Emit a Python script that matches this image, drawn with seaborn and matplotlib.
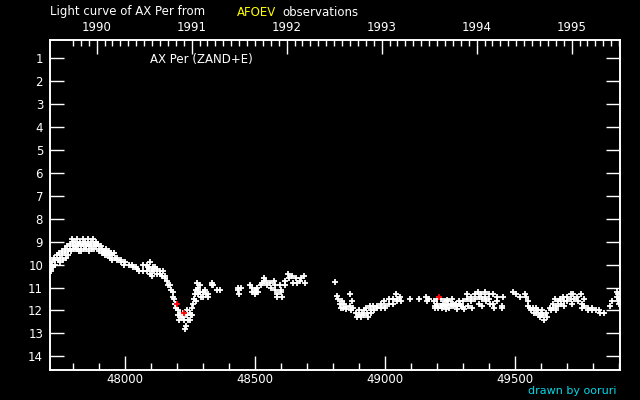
import numpy as np
import pandas as pd
import seaborn as sns
import matplotlib
matplotlib.use('Agg')
import matplotlib.pyplot as plt
from matplotlib.ticker import MultipleLocator

jd = [47714, 47716, 47718, 47721, 47724, 47729, 47731, 47733, 47739, 47742,
      47749, 47751, 47753, 47759, 47761, 47763, 47769, 47771, 47773, 47779,
      47781, 47783, 47789, 47791, 47793, 47798, 47800, 47802, 47804, 47809,
      47811, 47813, 47818, 47820, 47822, 47824, 47829, 47831, 47833, 47839,
      47841, 47843, 47849, 47851, 47853, 47858, 47860, 47862, 47864, 47869,
      47871, 47873, 47879, 47881, 47883, 47889, 47891, 47899, 47901, 47903,
      47909, 47911, 47913, 47919, 47921, 47923, 47929, 47931, 47933, 47939,
      47941, 47943, 47949, 47951, 47953, 47959, 47961, 47969, 47971, 47984,
      47986, 47999, 48001, 48015, 48029, 48031, 48044, 48046, 48055, 48069,
      48071, 48084, 48086, 48088, 48094, 48096, 48098, 48104, 48106, 48108,
      48114, 48116, 48124, 48126, 48134, 48136, 48144, 48146, 48154, 48156,
      48164, 48166, 48174, 48176, 48184, 48186, 48191, 48193, 48197, 48199,
      48204, 48206, 48208, 48214, 48216, 48223, 48225, 48227, 48231, 48234,
      48239, 48241, 48243, 48249, 48251, 48253, 48257, 48259, 48264, 48266,
      48271, 48273, 48275, 48279, 48281, 48283, 48289, 48291, 48293, 48299,
      48301, 48309, 48311, 48319, 48321, 48334, 48336, 48340, 48355, 48365,
      48434, 48436, 48438, 48447, 48480, 48489, 48491, 48499, 48501, 48503,
      48509, 48511, 48524, 48526, 48534, 48536, 48544, 48546, 48559, 48561,
      48574, 48576, 48578, 48584, 48586, 48598, 48600, 48602, 48604, 48614,
      48616, 48629, 48631, 48644, 48646, 48659, 48661, 48674, 48676, 48689,
      48691,
      48808, 48817, 48819, 48829, 48831, 48833, 48839, 48841, 48849, 48851,
      48864, 48866, 48868, 48874, 48876, 48889, 48891, 48899, 48901, 48909,
      48911, 48919, 48921, 48929, 48931, 48933, 48944, 48946, 48948, 48954,
      48956, 48969, 48971, 48984, 48986, 48998, 49000, 49002, 49014, 49016,
      49029, 49031, 49044, 49046, 49048, 49059, 49061, 49095, 49130, 49159,
      49161, 49170, 49189, 49191, 49193, 49199, 49201, 49203, 49214, 49216,
      49218, 49229, 49231, 49233, 49244, 49246, 49259, 49261, 49263, 49274,
      49276, 49278, 49289, 49291, 49299, 49301, 49303, 49314, 49316, 49318,
      49329, 49331, 49333, 49344, 49346, 49359, 49361, 49363, 49369, 49371,
      49373, 49384, 49386, 49388, 49399, 49401, 49403, 49414, 49416, 49418,
      49429, 49431, 49449, 49451, 49453, 49490, 49505, 49520, 49539, 49541,
      49549, 49551, 49559, 49561, 49569, 49571, 49579, 49581, 49583, 49589,
      49591, 49599, 49601, 49609, 49611, 49619, 49621, 49634, 49636, 49644,
      49646, 49654, 49656, 49658, 49664, 49666, 49674, 49676, 49684, 49686,
      49688, 49699, 49701, 49714, 49716, 49718, 49724, 49726, 49739, 49741,
      49754, 49756, 49758, 49764, 49766, 49779, 49781, 49794, 49796, 49810,
      49824, 49826, 49840, 49866, 49873, 49892, 49893, 49894, 49897, 49898,
      49899, 49222, 49238, 49252, 49268, 49284, 49240, 49595, 49605]
mag = [10.2, 10.3, 10.0, 9.9, 10.1, 9.7, 9.8, 10.0, 9.6, 9.8,
       9.5, 9.7, 9.9, 9.4, 9.6, 9.8, 9.3, 9.5, 9.7, 9.2,
       9.4, 9.6, 9.1, 9.3, 9.4, 8.9, 9.0, 9.2, 9.3, 9.0,
       9.2, 9.3, 8.9, 9.1, 9.3, 9.4, 9.0, 9.2, 9.4, 8.9,
       9.1, 9.3, 9.0, 9.2, 9.3, 8.9, 9.1, 9.2, 9.4, 9.0,
       9.2, 9.3, 8.9, 9.1, 9.3, 9.0, 9.2, 9.1, 9.3, 9.4,
       9.2, 9.3, 9.5, 9.4, 9.5, 9.6, 9.3, 9.5, 9.6, 9.4,
       9.6, 9.7, 9.5, 9.6, 9.8, 9.5, 9.7, 9.7, 9.8, 9.8,
       9.9, 10.0, 9.9, 10.0, 10.0, 10.1, 10.1, 10.2, 10.3, 10.3,
       10.0, 10.3, 10.0, 10.1, 10.2, 10.4, 9.9, 10.3, 10.5, 10.1,
       10.3, 10.1, 10.2, 10.4, 10.4, 10.3, 10.5, 10.3, 10.5, 10.6,
       10.7, 10.9, 10.9, 11.1, 11.2, 11.4, 11.5, 11.7, 11.7, 11.9,
       12.0, 12.2, 12.4, 12.1, 12.3, 12.1, 12.3, 12.4, 12.8, 12.7,
       12.2, 12.0, 12.4, 12.1, 12.4, 12.2, 11.9, 12.2, 11.7, 11.5,
       11.3, 11.1, 11.6, 10.8, 11.0, 11.3, 10.9, 11.2, 11.4, 11.2,
       11.4, 11.1, 11.3, 11.3, 11.4, 10.8, 10.9, 10.9, 11.1, 11.1,
       11.0, 11.1, 11.3, 11.0, 10.9, 11.0, 11.2, 11.1, 11.3, 11.2,
       11.0, 11.2, 10.9, 10.8, 10.6, 10.7, 10.7, 10.9, 10.8, 11.0,
       10.7, 10.9, 11.1, 11.3, 11.4, 10.9, 11.1, 11.2, 11.4, 10.7,
       10.9, 10.4, 10.6, 10.5, 10.8, 10.6, 10.8, 10.7, 10.6, 10.5,
       10.8,
       10.75, 11.35, 11.5, 11.7, 11.9, 11.6, 11.9, 11.7, 11.85, 11.95,
       11.3, 11.8, 12.0, 11.6, 11.9, 12.1, 12.3, 12.0, 12.2, 12.3,
       12.1, 12.2, 12.0, 11.9, 12.1, 12.3, 11.8, 12.0, 12.1, 11.8,
       12.0, 11.8, 11.9, 11.7, 11.9, 11.6, 11.8, 11.9, 11.5, 11.7,
       11.5, 11.7, 11.3, 11.5, 11.6, 11.4, 11.6, 11.5, 11.5, 11.4,
       11.6, 11.5, 11.6, 11.8, 11.9, 11.5, 11.7, 11.9, 11.5, 11.8,
       11.9, 11.6, 11.8, 11.95, 11.6, 11.9, 11.5, 11.7, 11.8, 11.7,
       11.8, 11.95, 11.7, 11.8, 11.6, 11.85, 11.95, 11.5, 11.3, 11.8,
       11.4, 11.6, 11.9, 11.3, 11.5, 11.2, 11.4, 11.7, 11.3, 11.5,
       11.8, 11.2, 11.4, 11.6, 11.3, 11.5, 11.7, 11.3, 11.7, 11.9,
       11.4, 11.6, 11.8, 11.9, 11.4, 11.2, 11.3, 11.4, 11.3, 11.4,
       11.6, 11.8, 11.9, 12.0, 11.9, 12.1, 11.9, 12.1, 12.0, 12.0,
       12.2, 12.1, 12.2, 12.2, 12.4, 12.1, 12.3, 11.9, 12.0, 11.7,
       11.9, 11.5, 11.8, 12.0, 11.6, 11.8, 11.5, 11.7, 11.4, 11.6,
       11.8, 11.4, 11.6, 11.3, 11.5, 11.7, 11.3, 11.5, 11.4, 11.6,
       11.3, 11.7, 11.9, 11.5, 11.8, 11.9, 12.0, 11.9, 12.0, 12.0,
       12.0, 12.1, 12.1, 11.8, 11.6, 11.2, 11.4, 11.6, 11.3, 11.5,
       11.7, 11.7, 11.75, 11.7, 11.75, 11.6, 11.55, 12.3, 12.0]

# observations flagged in red
jd_red = [48202, 48226, 49207]
mag_red = [11.7, 12.1, 11.4]

years = [1990, 1991, 1992, 1993, 1994, 1995]
ytick_mags = list(range(1, 15))

df = pd.DataFrame({'JD': jd, 'mag': mag})
dfr = pd.DataFrame({'JD': jd_red, 'mag': mag_red})

sns.set_style('ticks')
plt.rcParams['font.family'] = ['DejaVu Sans']

fig = plt.figure(figsize=(6.4, 4.0), dpi=100, facecolor='black')
ax = fig.add_axes([50/640, 30/400, 570/640, 330/400])
ax.set_facecolor('black')

sns.scatterplot(data=df, x='JD', y='mag', marker='+', color='white', s=16,
                linewidth=1.3, ax=ax, legend=False)
sns.scatterplot(data=dfr, x='JD', y='mag', marker='+', color='red', s=16,
                linewidth=1.3, ax=ax, legend=False)

ax.set_xlim(47713, 49903)
ax.set_ylim(14.6, 0.2)
ax.set_xlabel('')
ax.set_ylabel('')

ax.xaxis.set_major_locator(MultipleLocator(500))
ax.xaxis.set_minor_locator(MultipleLocator(100))
ax.set_yticks(ytick_mags)
ax.tick_params(axis='x', which='major', direction='in', length=10, width=1,
               color='white', labelcolor='white', labelsize=8.5, pad=2,
               top=False, bottom=True)
ax.tick_params(axis='x', which='minor', direction='in', length=5, width=1,
               color='white', top=False, bottom=True)
ax.tick_params(axis='y', which='major', direction='in', length=10, width=1,
               color='white', labelcolor='white', labelsize=8.5, pad=5,
               left=True, right=True, labelright=False)
for sp in ax.spines.values():
    sp.set_color('white')
    sp.set_linewidth(1.2)

# calendar axis along the top
ax2 = ax.twiny()
ax2.set_xlim(ax.get_xlim())
year_jd = [pd.Timestamp(f'{y}-01-01').to_julian_date() - 2400000 for y in years]
months = pd.date_range('1989-10-01', '1995-07-01', freq='MS')
month_jd = [t.to_julian_date() - 2400000 for t in months]
ax2.set_xticks(year_jd)
ax2.set_xticklabels([str(y) for y in years])
ax2.set_xticks(month_jd, minor=True)
ax2.tick_params(axis='x', which='major', direction='in', length=10, width=1,
                color='white', labelcolor='white', labelsize=8.5, pad=4)
ax2.tick_params(axis='x', which='minor', direction='in', length=4, width=1,
                color='white')
for sp in ax2.spines.values():
    sp.set_color('white')
    sp.set_linewidth(1.2)

fig.text(50/640, 1 - 12/400, 'Light curve of AX Per from', color='white',
         fontsize=8.5, va='center', ha='left')
fig.text(237/640, 1 - 12/400, 'AFOEV', color='yellow', fontsize=8.5,
         va='center', ha='left')
fig.text(282/640, 1 - 12/400, 'observations', color='white', fontsize=8.5,
         va='center', ha='left')
ax.text(0.175, 0.94, 'AX Per (ZAND+E)', color='white', fontsize=8.5,
        transform=ax.transAxes, va='center', ha='left')
fig.text(617/640, 1 - 391/400, 'drawn by ooruri', color='#00d8e8',
         fontsize=8, va='center', ha='right')

fig.savefig('out.png', dpi=100, facecolor='black')
